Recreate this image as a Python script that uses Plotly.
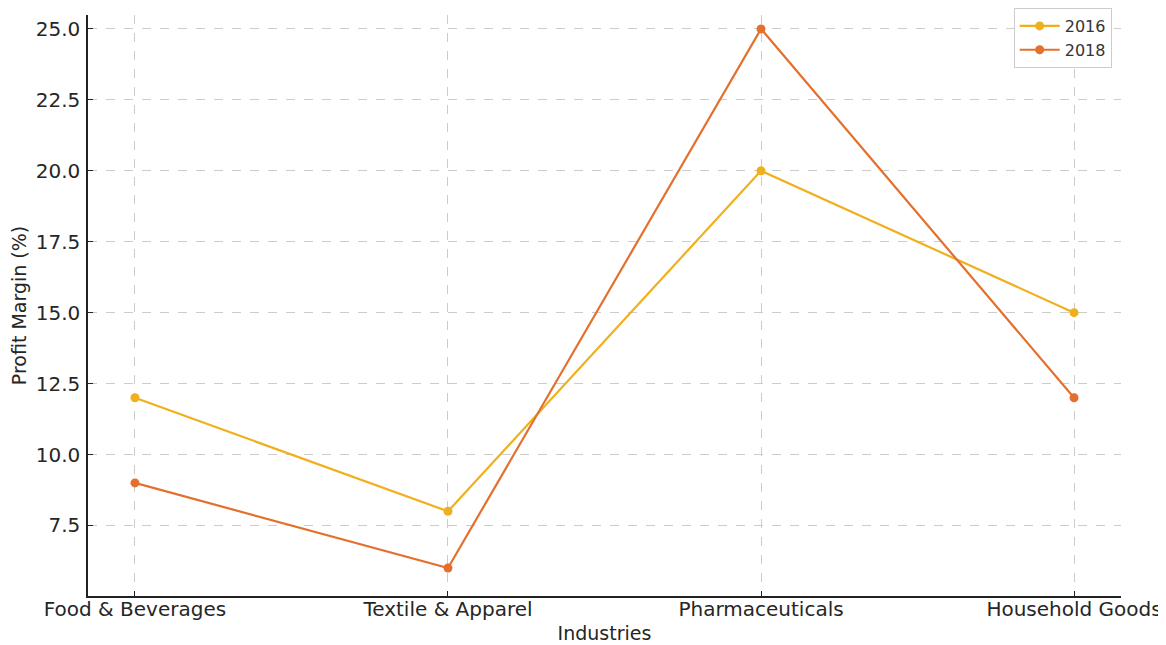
import plotly.graph_objects as go

industries = ["Food & Beverages", "Textile & Apparel", "Pharmaceuticals", "Household Goods"]
margin_2016 = [12, 8, 20, 15]
margin_2018 = [9, 6, 25, 12]
y_ticks = [7.5, 10.0, 12.5, 15.0, 17.5, 20.0, 22.5, 25.0]

fig = go.Figure()
fig.add_trace(go.Scatter(x=list(range(len(industries))), y=margin_2016, name="2016",
                         mode="lines+markers", line=dict(color="#F0B01E", width=2.2),
                         marker=dict(size=9, color="#F0B01E")))
fig.add_trace(go.Scatter(x=list(range(len(industries))), y=margin_2018, name="2018",
                         mode="lines+markers", line=dict(color="#E3702D", width=2.2),
                         marker=dict(size=9, color="#E3702D")))

font = "DejaVu Sans, sans-serif"
fig.update_layout(
    width=1166, height=645,
    margin=dict(l=80, r=53, t=0, b=57),
    plot_bgcolor="white", paper_bgcolor="white",
    font=dict(family=font, size=20, color="#262626"),
    legend=dict(x=0.991, y=1.012, xanchor="right", yanchor="top",
                bordercolor="#cccccc", borderwidth=1, bgcolor="white",
                font=dict(size=16, color="#333333"), itemwidth=40,
                tracegroupgap=0),
    xaxis=dict(
        range=[-0.15, 3.15], tickmode="array", tickvals=list(range(len(industries))),
        ticktext=industries, showline=True, linecolor="#222222", linewidth=1.5,
        ticks="inside", ticklen=5, tickcolor="#222222", ticklabelstandoff=-6,
        showgrid=True, gridcolor="#cccccc", griddash="dash", gridwidth=1,
        zeroline=False, automargin=False,
        title=dict(text="Industries", font=dict(size=19), standoff=7),
        tickfont=dict(size=20),
    ),
    yaxis=dict(
        range=[5.015, 25.49], tickmode="array", tickvals=y_ticks,
        ticktext=[f"{v:.1f}" for v in y_ticks],
        showline=True, linecolor="#222222", linewidth=1.5,
        ticks="inside", ticklen=5, tickcolor="#222222", ticklabelstandoff=2,
        showgrid=True, gridcolor="#cccccc", griddash="dash", gridwidth=1,
        zeroline=False, automargin=False,
        title=dict(text="Profit Margin (%)", font=dict(size=19), standoff=8),
        tickfont=dict(size=20),
    ),
)
fig.write_html("out.html")
